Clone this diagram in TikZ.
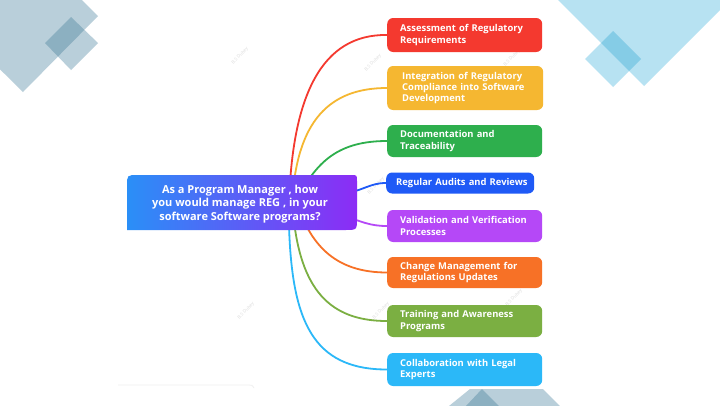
\documentclass[tikz,border=0pt]{standalone}
\usepackage{fontspec}
\setmainfont{Open Sans}
\definecolor{bgsteel}{HTML}{B9CFDA}
\definecolor{bgsteeld}{HTML}{8CB0C1}
\definecolor{bgsky}{HTML}{B7E2F2}
\definecolor{bgskyd}{HTML}{85CCE6}
\definecolor{cred}{HTML}{F4392F}
\definecolor{cyellow}{HTML}{F5B731}
\definecolor{cgreen}{HTML}{2EAF4D}
\definecolor{cblue}{HTML}{1F5AF6}
\definecolor{cpurple}{HTML}{B548F7}
\definecolor{corange}{HTML}{F77126}
\definecolor{colive}{HTML}{7BAF42}
\definecolor{csky}{HTML}{2BB8F8}
\definecolor{mainleft}{HTML}{2A8FF7}
\definecolor{mainright}{HTML}{8C2CF5}
\tikzset{
  topic/.style={fill=#1, draw=none, rounded corners=6pt, anchor=west, text=white,
    font=\fontsize{9.4}{11.2}\selectfont\bfseries, align=left, inner xsep=13pt,
    inner ysep=0pt, minimum width=155pt, text width=129pt},
  link/.style={draw=#1, line width=1.8pt, line cap=round},
  wmark/.style={text=gray!28, font=\fontsize{4.5}{5}\selectfont, rotate=45, inner sep=0pt}
}
\begin{document}
\begin{tikzpicture}[x=1pt,y=-1pt]
\useasboundingbox (0,0) rectangle (720,405);
\fill[white] (0,0) rectangle (720,405);
% background decorations
\begin{scope}
\clip (0,0) rectangle (720,405);
% top left
\fill[bgsteel] (98,16) -- (23,92) -- (-53,17) -- (22,-59) -- cycle;
\fill[bgsteel] (71,17) -- (98,43) -- (71,70) -- (45,43) -- cycle;
\begin{scope}
\clip (98,16) -- (23,92) -- (-53,17) -- (22,-59) -- cycle;
\fill[bgsteeld] (71,17) -- (98,43) -- (71,70) -- (45,43) -- cycle;
\end{scope}
% top right
\fill[bgsky] (644,86) -- (554,-4) -- (644,-94) -- (734,-4) -- cycle;
\fill[bgsky] (613,31) -- (641,59) -- (613,87) -- (585,59) -- cycle;
\begin{scope}
\clip (644,86) -- (554,-4) -- (644,-94) -- (734,-4) -- cycle;
\fill[bgskyd] (613,31) -- (641,59) -- (613,87) -- (585,59) -- cycle;
\end{scope}
% bottom
\fill[bgsteel] (449,406) -- (470,389) -- (543,389) -- (560,406) -- cycle;
\fill[bgsteeld] (482,389) -- (499,406) -- (466,406) -- cycle;
\end{scope}
% faint line bottom left
\draw[gray!12, line width=0.8pt] (118,385) -- (249,385) .. controls (252,385) .. (254,388);
% watermarks
\node[wmark] (w1) at (240,56) {B.S Dubey};
\node[wmark] (w2) at (246,311) {B.S Dubey};
\node[wmark] (w3) at (373,63) {B.S Dubey};
\node[wmark] (w4) at (376,186) {B.S Dubey};
\node[wmark] (w5) at (381,311) {B.S Dubey};
\node[wmark] (w6) at (512,58) {B.S Dubey};
\node[wmark] (w7) at (514,298) {B.S Dubey};
% hub coordinates
\coordinate (s1) at (289,205);
\coordinate (s2) at (292,205);
\coordinate (s3) at (295,205);
\coordinate (s4) at (340,195);
\coordinate (s5) at (340,214);
\coordinate (s6) at (300,212);
\coordinate (s7) at (293,212);
\coordinate (s8) at (289,226);
% topic boxes
\node[topic=cred, minimum width=147pt, minimum height=34pt] (t1) at (387,35) {Assessment of Regulatory\\Requirements};
\node[topic=cyellow, minimum height=44pt, inner xsep=15pt, text width=126pt] (t2) at (387,88) {\mbox{Integration of Regulatory}\\\mbox{Compliance into Software}\\Development};
\node[topic=cgreen, minimum height=32pt] (t3) at (387,141) {Documentation and\\Traceability};
\node[topic=cblue, minimum width=148pt, minimum height=21pt, inner xsep=10pt, text width=128pt] (t4) at (386,183) {\mbox{Regular Audits and Reviews}};
\node[topic=cpurple, minimum height=32pt] (t5) at (387,226) {\mbox{Validation and Verification}\\Processes};
\node[topic=corange, minimum height=31pt] (t6) at (387,272.5) {Change Management for\\Regulations Updates};
\node[topic=colive, minimum height=32pt] (t7) at (387,321) {Training and Awareness\\Programs};
\node[topic=csky, minimum height=33pt] (t8) at (387,369.5) {Collaboration with Legal\\Experts};
% connectors
\draw[link=cred] (s1) .. controls (292,95) and (322,34) .. (t1.west);
\draw[link=cyellow] (s2) .. controls (296,120) and (330,88) .. (t2.west);
\draw[link=cgreen] (s3) .. controls (315,160) and (340,141) .. (t3.west);
\draw[link=cblue] (s4) .. controls (365,190) and (370,183) .. (t4.west);
\draw[link=cpurple] (s5) .. controls (362,222) and (370,226) .. (t5.west);
\draw[link=corange] (s6) .. controls (315,250) and (340,272.5) .. (t6.west);
\draw[link=colive] (s7) .. controls (300,290) and (330,321) .. (t7.west);
\draw[link=csky] (s8) .. controls (292,320) and (312,369.5) .. (t8.west);
% central node
\shade[left color=mainleft, right color=mainright]
  (127,230) -- (127,186) .. controls (127,175) .. (138,175) -- (351,175)
  .. controls (357,175) .. (357,181) -- (357,218) .. controls (357,230) .. (345,230) -- cycle;
\node[text=white, font=\fontsize{11}{13.5}\selectfont\bfseries, align=center, inner sep=0pt]
  (main) at (240,204) {As a Program Manager , how\\you would manage REG , in your\\software Software programs?};
\end{tikzpicture}
\end{document}
